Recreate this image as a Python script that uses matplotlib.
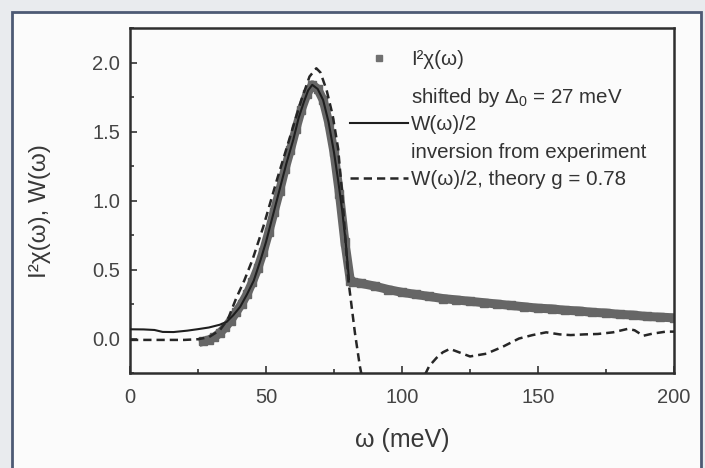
import numpy as np
import matplotlib.pyplot as plt
from matplotlib.lines import Line2D
from matplotlib.patches import Rectangle
from matplotlib.ticker import MultipleLocator

plt.rcParams['font.family'] = ['Liberation Sans', 'DejaVu Sans']
plt.rcParams['mathtext.fontset'] = 'custom'
plt.rcParams['mathtext.rm'] = 'Liberation Sans'
plt.rcParams['mathtext.it'] = 'Liberation Sans:italic'

### data
# I^2 chi(omega), shifted by Delta_0 (grey squares)
w_chi = [27, 29, 31, 33, 35, 37, 39, 41, 43, 45, 47, 49, 51, 53, 55, 57, 59,
         61, 63, 65, 67, 69, 71, 73, 75, 77, 79, 81, 82, 85, 90, 95, 100, 105,
         110, 115, 120, 125, 130, 135, 140, 145, 150, 155, 160, 165, 170, 175,
         180, 185, 190, 195, 200]
chi = [-0.02, -0.01, 0.01, 0.04, 0.08, 0.13, 0.19, 0.25, 0.32, 0.41, 0.51,
       0.63, 0.77, 0.92, 1.07, 1.23, 1.37, 1.52, 1.66, 1.77, 1.84, 1.81, 1.73,
       1.57, 1.35, 1.05, 0.70, 0.42, 0.41, 0.40, 0.38, 0.355, 0.335, 0.32,
       0.305, 0.29, 0.28, 0.27, 0.26, 0.25, 0.24, 0.23, 0.22, 0.215, 0.205,
       0.20, 0.19, 0.185, 0.175, 0.17, 0.16, 0.155, 0.15]

# W(omega)/2, inversion from experiment (solid)
w_exp = [0, 5, 9, 12, 16, 21, 25, 29, 33, 35.5, 38, 40.5, 43, 45.5, 48, 50,
         52.5, 55, 57.5, 60, 62, 64, 65.5, 67, 69, 71, 73, 75, 76.5, 78, 79.3,
         80.5]
W_exp = [0.067, 0.066, 0.062, 0.048, 0.047, 0.057, 0.068, 0.08, 0.10, 0.12,
         0.17, 0.23, 0.32, 0.42, 0.57, 0.70, 0.89, 1.08, 1.27, 1.44, 1.60,
         1.72, 1.80, 1.84, 1.81, 1.73, 1.57, 1.35, 1.15, 0.93, 0.70, 0.43]

# W(omega)/2, theory g = 0.78 (dashed), runs below the axis between ~85 and ~108
w_th = [0, 10, 20, 25, 29, 33, 36, 39, 42, 45, 49, 54, 58.8, 63, 66, 68.5, 70,
        72.3, 74.5, 76.5, 78, 80.3, 82.7, 84.5, 85.3, np.nan,
        108.5, 110, 112.7, 115, 117.6, 121, 125, 131, 137, 143, 148, 153, 158,
        162, 167, 172, 177.6, 183, 185.5, 188.7, 192, 197, 200]
W_th = [-0.01, -0.01, -0.01, -0.005, 0.01, 0.06, 0.14, 0.29, 0.42, 0.57, 0.81,
        1.15, 1.46, 1.73, 1.90, 1.96, 1.93, 1.80, 1.62, 1.38, 1.05, 0.42, 0.04,
        -0.20, -0.28, np.nan,
        -0.26, -0.20, -0.14, -0.10, -0.075, -0.10, -0.13, -0.11, -0.06, 0.0,
        0.025, 0.045, 0.03, 0.025, 0.03, 0.033, 0.045, 0.07, 0.06, 0.02, 0.035,
        0.05, 0.05]

x_ticks = [0, 50, 100, 150, 200]
y_ticks = [0.0, 0.5, 1.0, 1.5, 2.0]

labels_chi = ['I²χ(ω)', r'shifted by $\mathregular{\Delta_0}$ = 27 meV']
labels_W = ['W(ω)/2', 'inversion from experiment', 'W(ω)/2, theory g = 0.78']

W, H = 705, 468
fig = plt.figure(figsize=(W / 100, H / 100), dpi=100)
fig.patch.set_facecolor('#e9ebee')
# scanned page frame, kept behind the axes
fig.patches.append(Rectangle((12 / W, -0.05), (701 - 12) / W, 1.05 - 12 / H,
                             transform=fig.transFigure, facecolor='#fbfbfb',
                             edgecolor='#4d5a74', lw=2.0, zorder=-10))

ax = fig.add_axes([130 / W, 1 - 373 / H, 544 / W, (373 - 28.3) / H])
ax.set_facecolor('none')

grey = '#666666'
ax.plot(w_chi, chi, color=grey, lw=6.5, marker='s', ms=5.5,
        solid_joinstyle='round', zorder=2)
ax.plot(w_exp, W_exp, color='#1e1e1e', lw=1.5, zorder=3)
ax.plot(w_th, W_th, color='#262626', lw=1.8, dashes=(3.3, 2.0), zorder=4)

ax.set_xlim(0, 200)
ax.set_ylim(-0.25, 2.25)
ax.set_xticks(x_ticks)
ax.set_yticks(y_ticks)
ax.xaxis.set_minor_locator(MultipleLocator(25))
ax.yaxis.set_minor_locator(MultipleLocator(0.25))
ax.tick_params(which='both', direction='in', top=False, right=False,
               color='#333333', width=1.2)
ax.tick_params(which='major', length=5, labelsize=14.5, labelcolor='#444444')
ax.tick_params(which='minor', length=3)
ax.tick_params(axis='x', pad=11)
ax.tick_params(axis='y', pad=7)
for s in ax.spines.values():
    s.set_linewidth(1.8)
    s.set_color('#2e2e2e')

ax.set_xlabel('ω (meV)', fontsize=18, color='#383838')
ax.xaxis.set_label_coords(0.5, -0.16)
ax.set_ylabel('I²χ(ω), W(ω)', fontsize=17.5, color='#383838')
ax.yaxis.set_label_coords(-0.145, 0.47)

### legend in two blocks, the second block sits tighter
leg_style = dict(loc='upper left', frameon=False, borderpad=0,
                 borderaxespad=0, handlelength=2.83, handletextpad=0.15,
                 fontsize=14.8, labelcolor='#333333')
h_chi = [Line2D([], [], ls='none', marker='s', ms=5, color='#707070'),
         Line2D([], [], ls='none')]
leg1 = ax.legend(h_chi, labels_chi, bbox_to_anchor=(0.404, 0.937),
                 labelspacing=0.85, **leg_style)
ax.add_artist(leg1)
h_W = [Line2D([], [], color='#1e1e1e', lw=1.5),
       Line2D([], [], ls='none'),
       Line2D([], [], color='#262626', lw=1.8, dashes=(3.3, 2.0))]
ax.legend(h_W, labels_W, bbox_to_anchor=(0.404, 0.748),
          labelspacing=0.42, **leg_style)

plt.savefig('out.png', dpi=100, facecolor=fig.get_facecolor())
